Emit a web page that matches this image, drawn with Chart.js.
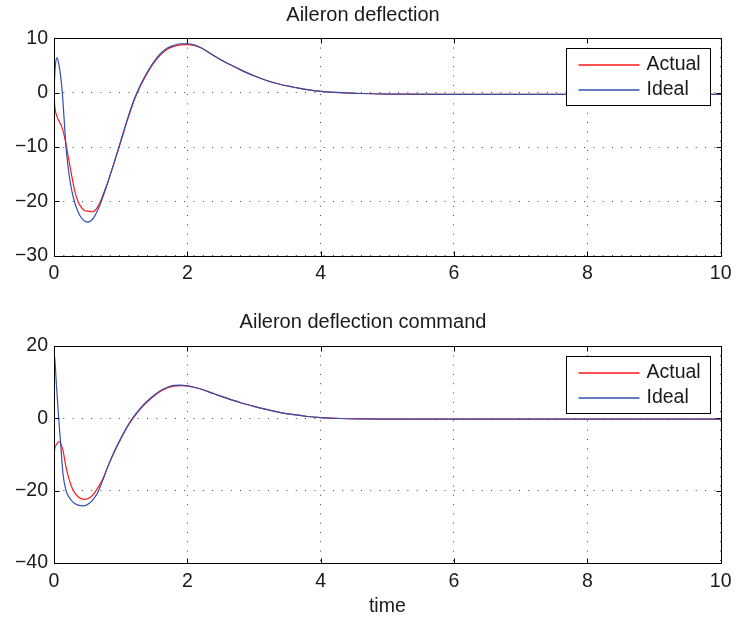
<!DOCTYPE html>
<html>
<head>
<meta charset="utf-8">
<script src="https://cdn.jsdelivr.net/npm/chart.js@4"></script>
<style>
html,body{margin:0;padding:0;background:#fff;}
#wrap{position:relative;width:738px;height:619px;background:#fff;}
canvas{position:absolute;left:0;display:block;}
#c1{top:0;}
#c2{top:300px;}
</style>
</head>
<body>
<div id="wrap">
<canvas id="c1" width="738" height="300"></canvas>
<canvas id="c2" width="738" height="319"></canvas>
</div>
<script>
// ---- data ----
const topTitle = 'Aileron deflection';
const bottomTitle = 'Aileron deflection command';
const xLabel = 'time';
const seriesNames = ['Actual', 'Ideal'];

const topTime = [0,0.01,0.02,0.045,0.07,0.1,0.125,0.15,0.18,0.22,
  0.26,0.31,0.36,0.41,0.46,0.51,0.56,0.61,0.66,0.7,
  0.75,0.8,0.9,1.0,1.1,1.2,1.3,1.4,1.5,1.6,
  1.7,1.8,1.9,2.0,2.1,2.2,2.4,2.6,2.8,3.0,
  3.2,3.4,3.6,3.8,4.0,4.3,4.6,5,6,7,
  8,9,10];
const topIdeal = [0,3.0,5.0,6.4,5.4,3.0,0,-4.5,-10,-14.5,
  -17.6,-20.2,-21.9,-23.0,-23.6,-23.8,-23.5,-22.7,-21.5,-20.3,
  -18.6,-16.8,-12.9,-8.9,-4.9,-1.3,1.5,3.8,5.7,7.2,
  8.2,8.7,9.0,9.0,8.8,8.3,6.8,5.4,4.2,3.1,
  2.2,1.5,1.0,0.55,0.25,0.0,-0.15,-0.25,-0.3,-0.3,
  -0.3,-0.3,-0.3];
const topActual = [0,-2.2,-3.3,-4.4,-5.1,-5.8,-6.6,-7.7,-9.4,-12.2,
  -14.9,-18.0,-20.0,-21.1,-21.7,-21.8,-21.9,-21.7,-20.9,-19.9,
  -18.3,-16.7,-13.0,-9.1,-5.1,-1.5,1.3,3.6,5.5,7.0,
  8.0,8.5,8.8,8.85,8.7,8.25,6.8,5.4,4.2,3.1,
  2.2,1.5,1.0,0.55,0.25,0.0,-0.15,-0.25,-0.3,-0.3,
  -0.3,-0.3,-0.3];

const bottomTime = [0,0.003,0.035,0.07,0.085,0.1,0.134,0.18,0.23,0.28,
  0.36,0.45,0.53,0.6,0.65,0.7,0.75,0.8,0.9,1.0,
  1.1,1.2,1.3,1.4,1.5,1.6,1.7,1.8,1.9,2.0,
  2.1,2.2,2.4,2.6,2.8,3.0,3.2,3.4,3.6,3.8,
  4.0,4.3,4.6,5,6,7,8,9,10];
const bottomIdeal = [1.8,18.0,9.7,0,-3.6,-7.0,-15.2,-20.0,-21.9,-23.1,
  -24.0,-24.2,-23.5,-22.1,-20.7,-18.6,-16.2,-13.7,-9.3,-5.6,
  -2.2,0.6,2.9,4.8,6.4,7.7,8.6,9.1,9.2,9.0,
  8.6,8.1,6.8,5.5,4.3,3.3,2.4,1.6,1.0,0.5,
  0.2,-0.05,-0.15,-0.2,-0.2,-0.2,-0.2,-0.2,-0.2];
const bottomActual = [-11.1,-9.6,-7.3,-6.5,-6.5,-6.9,-8.8,-13.4,-17.1,-19.6,
  -21.7,-22.4,-22.0,-20.8,-19.4,-17.9,-16.0,-13.7,-9.5,-5.8,
  -2.4,0.4,2.7,4.6,6.2,7.5,8.4,8.9,9.05,8.95,
  8.6,8.1,6.8,5.5,4.3,3.3,2.4,1.6,1.0,0.5,
  0.2,-0.05,-0.15,-0.2,-0.2,-0.2,-0.2,-0.2,-0.2];

const xTicks = [0,2,4,6,8,10];
const topYTicks = [-30,-20,-10,0,10];
const bottomYTicks = [-40,-20,0,20];

// ---- styling ----
const FONT = '"Liberation Sans", Arial, Helvetica, sans-serif';
const TXT = '#1a1a1a';
const RED = '#ff1a1a';
const BLUE = '#3050b0';
const seriesColors = [RED, BLUE];

const pts = (t, v) => t.map((x, i) => ({x, y: v[i]}));
const minus = v => String(v).replace('-', '\u2212');

const framePlugin = {
  id: 'frame',
  afterDatasetsDraw(chart) {
    const {ctx, chartArea: a, scales: {x, y}} = chart;
    const L = Math.round(a.left) + 0.5, R = Math.round(a.right) + 0.5;
    const T = Math.round(a.top) + 0.5, B = Math.round(a.bottom) + 0.5;
    ctx.save();
    ctx.lineWidth = 1;
    ctx.setLineDash([]);
    ctx.strokeStyle = '#000';
    // inward tick marks on all four sides
    ctx.beginPath();
    x.ticks.forEach(t => {
      const px = Math.round(x.getPixelForValue(t.value)) + 0.5;
      ctx.moveTo(px, B); ctx.lineTo(px, B - 5);
      ctx.moveTo(px, T); ctx.lineTo(px, T + 5);
    });
    y.ticks.forEach(t => {
      const py = Math.round(y.getPixelForValue(t.value)) + 0.5;
      ctx.moveTo(L, py); ctx.lineTo(L + 5, py);
      ctx.moveTo(R, py); ctx.lineTo(R - 5, py);
    });
    ctx.stroke();
    // legend box
    const lw = 144, lh = 57;
    const lx = Math.round(a.right - 11 - lw) + 0.5;
    const ly = Math.round(a.top + 10) + 0.5;
    ctx.fillStyle = '#fff';
    ctx.fillRect(lx, ly, lw, lh);
    ctx.strokeStyle = '#000';
    ctx.strokeRect(lx, ly, lw, lh);
    ctx.font = '19.5px ' + FONT;
    ctx.textBaseline = 'middle';
    ctx.textAlign = 'left';
    seriesNames.forEach((name, i) => {
      const yy = Math.round(ly + 16 + i * 25.7);
      ctx.beginPath();
      ctx.lineWidth = 1.3;
      ctx.strokeStyle = seriesColors[i];
      ctx.moveTo(lx + 12, yy);
      ctx.lineTo(lx + 73, yy);
      ctx.stroke();
      ctx.fillStyle = TXT;
      ctx.fillText(name, lx + 80, yy);
    });
    // box
    ctx.lineWidth = 1;
    ctx.strokeStyle = '#000';
    ctx.strokeRect(L, T, R - L, B - T);
    ctx.restore();
  }
};

function makeChart(id, title, time, actual, ideal, yTicks, yStep, titlePad, xHeight, showXLabel) {
  return new Chart(document.getElementById(id), {
    type: 'line',
    data: {
      datasets: [
        {label: seriesNames[0], order: 1, data: pts(time, actual),
         borderColor: seriesColors[0], borderWidth: 1.2, pointRadius: 0, fill: false,
         cubicInterpolationMode: 'monotone'},
        {label: seriesNames[1], order: 0, data: pts(time, ideal),
         borderColor: seriesColors[1], borderWidth: 1.2, pointRadius: 0, fill: false,
         cubicInterpolationMode: 'monotone'}
      ]
    },
    options: {
      responsive: false,
      animation: false,
      events: [],
      layout: {padding: {left: 0, right: 12, top: 0, bottom: 0}},
      plugins: {
        legend: {display: false},
        tooltip: {enabled: false},
        title: {display: true, text: title, color: TXT,
                font: {family: FONT, size: 20, weight: 'normal', lineHeight: 1.2},
                padding: titlePad}
      },
      scales: {
        x: {
          type: 'linear', min: xTicks[0], max: xTicks[xTicks.length - 1],
          ticks: {stepSize: xTicks[1] - xTicks[0], color: TXT, padding: 6.5, maxRotation: 0,
                  font: {family: FONT, size: 19.5, lineHeight: 1.2}},
          grid: {color: '#444', lineWidth: 1, drawTicks: false},
          border: {display: false, dash: [1, 8.3]},
          title: {display: showXLabel, text: xLabel, color: TXT,
                  font: {family: FONT, size: 19.5, lineHeight: 1.2},
                  padding: {top: 0, bottom: 1}},
          afterFit(s) { s.height = xHeight; }
        },
        y: {
          min: yTicks[0], max: yTicks[yTicks.length - 1],
          ticks: {stepSize: yStep, color: TXT, padding: 6,
                  font: {family: FONT, size: 19.5, lineHeight: 1.2},
                  callback: v => minus(v)},
          grid: {color: '#444', lineWidth: 1, drawTicks: false},
          border: {display: false, dash: [1, 8.3]},
          afterFit(s) { s.width = 54; }
        }
      }
    },
    plugins: [framePlugin]
  });
}

makeChart('c1', topTitle, topTime, topActual, topIdeal, topYTicks, 10,
  {top: 3, bottom: 11.3}, 44.2, false);
makeChart('c2', bottomTitle, bottomTime, bottomActual, bottomIdeal, bottomYTicks, 20,
  {top: 10.5, bottom: 11.5}, 56, true);
</script>
</body>
</html>
